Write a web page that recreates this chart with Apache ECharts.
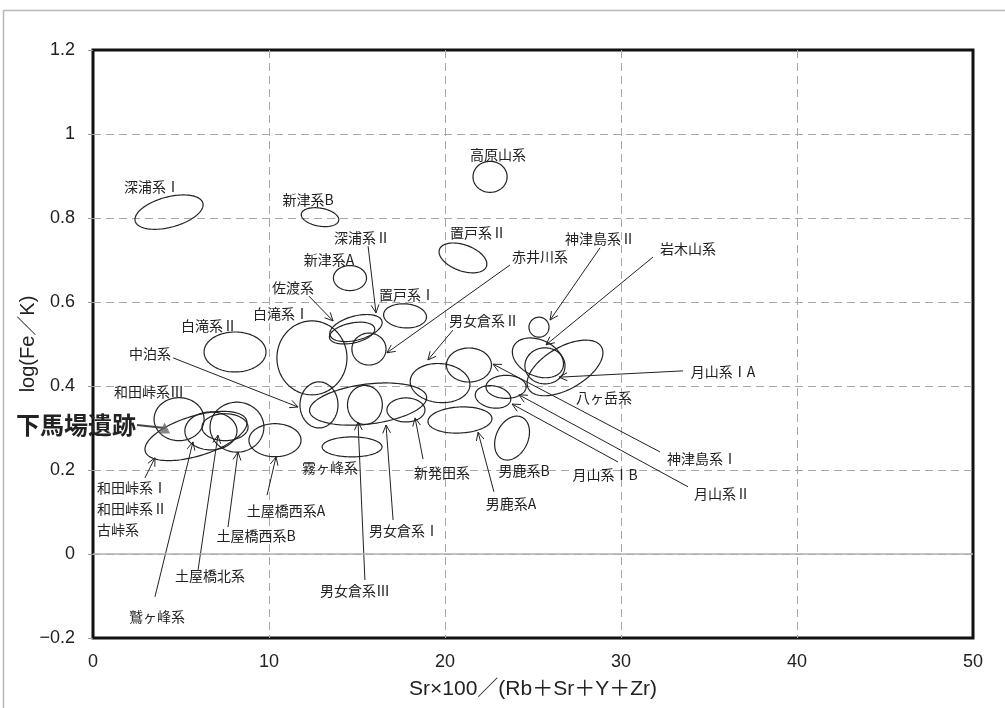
<!DOCTYPE html>
<html>
<head>
<meta charset="utf-8">
<script src="https://cdn.jsdelivr.net/npm/echarts@6/dist/echarts.min.js"></script>
<style>
  html, body { margin: 0; padding: 0; background: #fff; }
  #chart { width: 1005px; height: 708px; }
</style>
</head>
<body>
<div id="chart"></div>
<script>
// Obsidian source groups: centre and half-spread of each discrimination ellipse
const groupNames = ['深浦系Ⅰ','新津系B','高原山系','置戸系Ⅱ','新津系A','深浦系Ⅱ','佐渡系','置戸系Ⅰ','赤井川系','白滝系Ⅰ','白滝系Ⅱ','中泊系','男女倉系Ⅰ','男女倉系Ⅲ','新発田系','男女倉系Ⅱ','神津島系Ⅰ','月山系Ⅱ','月山系ⅠB','男鹿系A','男鹿系B','神津島系Ⅱ','岩木山系','月山系ⅠA','八ヶ岳系','和田峠系Ⅲ','和田峠系Ⅰ・Ⅱ・古峠系','鷲ヶ峰系','土屋橋北系','土屋橋西系B','土屋橋西系A','霧ヶ峰系'];
const groupSr   = [4.32, 12.90, 22.56, 21.02, 14.60, 14.94, 14.72, 17.73, 15.68, 12.44, 8.07, 12.84, 15.63, 15.45, 17.78, 19.72, 21.36, 23.47, 22.73, 20.85, 23.81, 25.34, 25.28, 25.68, 26.82, 4.89, 5.85, 6.70, 7.50, 8.18, 10.34, 14.72];
const groupFeK  = [0.814, 0.802, 0.898, 0.705, 0.657, 0.538, 0.526, 0.567, 0.488, 0.467, 0.481, 0.355, 0.357, 0.355, 0.343, 0.407, 0.450, 0.398, 0.374, 0.319, 0.276, 0.540, 0.467, 0.448, 0.443, 0.321, 0.281, 0.293, 0.302, 0.302, 0.271, 0.255];
const spreadSr  = [1.99, 1.08, 0.97, 1.42, 0.94, 1.53, 1.31, 1.22, 0.97, 1.99, 1.76, 1.08, 3.35, 0.99, 1.08, 1.70, 1.28, 1.14, 1.02, 1.82, 1.31, 0.57, 1.53, 1.14, 2.39, 1.42, 3.01, 1.48, 1.31, 1.53, 1.48, 1.70];
const spreadFeK = [0.036, 0.0214, 0.0369, 0.031, 0.0298, 0.0286, 0.0238, 0.0286, 0.038, 0.088, 0.0476, 0.0548, 0.0476, 0.0464, 0.0286, 0.0464, 0.0405, 0.0274, 0.0262, 0.031, 0.038, 0.0238, 0.0429, 0.0429, 0.050, 0.0512, 0.0476, 0.0452, 0.032, 0.0595, 0.0393, 0.0238];
const tiltDeg   = [15, -10, 0, -20, 0, 15, 12, -4, 0, 0, 0, 0, 7, 0, 0, -5, 0, 0, -10, 3, 65, 0, -25, 0, 30, 0, 17, 0, 0, 0, 0, 0];

// Annotation text and where it sits in data space
const noteText = ['深浦系Ⅰ','新津系B','高原山系','置戸系Ⅱ','新津系A','深浦系Ⅱ','佐渡系','置戸系Ⅰ','赤井川系','白滝系Ⅰ','白滝系Ⅱ','中泊系','男女倉系Ⅱ','神津島系Ⅱ','岩木山系','月山系ⅠA','八ヶ岳系','神津島系Ⅰ','月山系Ⅱ','月山系ⅠB','男鹿系B','男鹿系A','新発田系','男女倉系Ⅰ','男女倉系Ⅲ','霧ヶ峰系','土屋橋西系A','土屋橋西系B','土屋橋北系','鷲ヶ峰系','和田峠系Ⅲ'];
const noteX = [3.35, 12.22, 23.01, 21.88, 13.41, 15.28, 11.36, 17.84, 25.40, 10.68, 6.59, 3.24, 22.22, 28.81, 33.81, 35.80, 29.03, 34.60, 35.74, 29.09, 24.49, 23.75, 19.83, 17.67, 14.89, 13.47, 10.97, 9.26, 6.65, 3.64, 3.18];
const noteY = [0.874, 0.843, 0.950, 0.764, 0.700, 0.752, 0.633, 0.617, 0.707, 0.571, 0.543, 0.476, 0.555, 0.750, 0.726, 0.433, 0.371, 0.226, 0.143, 0.190, 0.198, 0.119, 0.193, 0.055, -0.088, 0.205, 0.102, 0.043, -0.052, -0.150, 0.386];

// Stacked label for the Wada-toge / Ko-toge group
const stackText = '和田峠系Ⅰ\n和田峠系Ⅱ\n古峠系';
const stackX = 0.23;
const stackY = 0.109;

// Leader arrows: from label to ellipse
const leadFromX = [15.63, 12.27, 23.69, 4.55, 20.45, 28.81, 31.82, 33.52, 32.22, 33.81, 29.83, 22.78, 18.75, 17.05, 15.45, 9.89, 7.67, 5.97, 3.52, 2.95];
const leadFromY = [0.733, 0.614, 0.688, 0.467, 0.533, 0.729, 0.707, 0.436, 0.243, 0.160, 0.219, 0.148, 0.226, 0.081, -0.062, 0.140, 0.064, -0.038, -0.102, 0.181];
const leadToX   = [16.08, 13.64, 16.70, 11.65, 19.03, 25.97, 25.74, 26.48, 22.73, 24.20, 23.81, 21.88, 18.30, 16.65, 15.06, 10.40, 8.24, 7.10, 5.68, 3.52];
const leadToY   = [0.574, 0.555, 0.479, 0.350, 0.462, 0.557, 0.498, 0.421, 0.452, 0.379, 0.357, 0.290, 0.324, 0.307, 0.314, 0.231, 0.243, 0.283, 0.267, 0.229];

// Archaeological site sample
const siteName = '下馬場遺跡';
const siteSr = 4.07;
const siteFeK = 0.300;
const siteLeadSr = 2.50;

// Axis ticks
const xTicks = { min: 0, max: 50, step: 10 };
const yTicks = { min: -0.2, max: 1.2, step: 0.2 };

const chart = echarts.init(document.getElementById('chart'));
const INK = '#222';
const CJK = "'Noto Sans CJK JP', 'Noto Sans CJK SC', sans-serif";
const LATIN = "'Liberation Sans', Arial, 'Noto Sans CJK JP', sans-serif";

function ellipseItem(params, api) {
  const c = api.coord([api.value(0), api.value(1)]);
  const sz = api.size([api.value(2), api.value(3)], [api.value(0), api.value(1)]);
  const a = sz[0], b = sz[1];
  const th = api.value(4) * Math.PI / 180;
  const ct = Math.cos(th), st = Math.sin(th);
  const pts = [];
  const n = 120;
  for (let i = 0; i < n; i++) {
    const t = (i / n) * Math.PI * 2;
    const ex = a * Math.cos(t), ey = b * Math.sin(t);
    pts.push([c[0] + ex * ct + ey * st, c[1] - ex * st + ey * ct]);
  }
  return {
    type: 'polygon',
    shape: { points: pts },
    style: { fill: 'none', stroke: INK, lineWidth: 1.2 }
  };
}

function arrowItem(params, api) {
  const p1 = api.coord([api.value(0), api.value(1)]);
  const p2 = api.coord([api.value(2), api.value(3)]);
  const ang = Math.atan2(p2[1] - p1[1], p2[0] - p1[0]);
  const L = 9, spread = 0.45;
  const h1 = [p2[0] - L * Math.cos(ang - spread), p2[1] - L * Math.sin(ang - spread)];
  const h2 = [p2[0] - L * Math.cos(ang + spread), p2[1] - L * Math.sin(ang + spread)];
  const st = { stroke: INK, lineWidth: 1, fill: 'none' };
  return {
    type: 'group',
    children: [
      { type: 'line', shape: { x1: p1[0], y1: p1[1], x2: p2[0], y2: p2[1] }, style: st },
      { type: 'polyline', shape: { points: [h1, p2, h2] }, style: st }
    ]
  };
}

function noteItem(params, api) {
  const p = api.coord([api.value(0), api.value(1)]);
  return {
    type: 'text',
    x: p[0], y: p[1],
    style: {
      text: noteText[params.dataIndex],
      fill: INK,
      font: '14px ' + CJK,
      align: 'center',
      verticalAlign: 'middle'
    }
  };
}

const gridLine = { show: true, showMinLine: false, showMaxLine: false, lineStyle: { color: '#a8a8a8', type: [8, 5], width: 1 } };

const option = {
  animation: false,
  backgroundColor: '#fff',
  graphic: [{
    type: 'rect',
    shape: { x: 3.5, y: 10.5, width: 1010, height: 720 },
    style: { fill: 'none', stroke: '#b8b8b8', lineWidth: 1.5 },
    silent: true,
    z: -10
  }],
  grid: {
    left: 93, right: 32, top: 50, bottom: 70,
    show: true,
    borderColor: '#111',
    borderWidth: 3,
    backgroundColor: 'transparent'
  },
  xAxis: {
    type: 'value',
    min: xTicks.min, max: xTicks.max, interval: xTicks.step,
    name: 'Sr×100／(Rb＋Sr＋Y＋Zr)',
    nameLocation: 'middle',
    nameGap: 41,
    nameMoveOverlap: false,
    nameTextStyle: { color: INK, fontSize: 21, fontFamily: LATIN },
    axisLine: { show: false },
    axisTick: { show: false },
    axisLabel: { color: INK, fontSize: 18, fontFamily: LATIN, margin: 15 },
    splitLine: gridLine
  },
  yAxis: {
    type: 'value',
    min: yTicks.min, max: yTicks.max, interval: yTicks.step,
    name: 'log(Fe／K)',
    nameLocation: 'middle',
    nameGap: 55,
    nameMoveOverlap: false,
    nameTextStyle: { color: INK, fontSize: 20, fontFamily: LATIN },
    axisLine: { show: false },
    axisTick: { show: true, length: 5, lineStyle: { color: '#999' } },
    axisLabel: {
      color: INK, fontSize: 18, fontFamily: LATIN, margin: 18,
      formatter: v => String(Math.round(v * 10) / 10).replace('-', '−')
    },
    splitLine: gridLine
  },
  series: [
    {
      name: 'zero',
      type: 'line',
      data: [],
      silent: true,
      markLine: {
        silent: true,
        symbol: 'none',
        label: { show: false },
        lineStyle: { color: '#b0b0b0', type: 'solid', width: 1.5 },
        data: [{ yAxis: 0 }]
      }
    },
    {
      name: 'groups',
      type: 'custom',
      renderItem: ellipseItem,
      data: groupNames.map((n, i) => [groupSr[i], groupFeK[i], spreadSr[i], spreadFeK[i], tiltDeg[i]]),
      encode: { x: 0, y: 1 },
      silent: true,
      z: 3
    },
    {
      name: 'leaders',
      type: 'custom',
      renderItem: arrowItem,
      data: leadFromX.map((x, i) => [x, leadFromY[i], leadToX[i], leadToY[i]]),
      encode: { x: [0, 2], y: [1, 3] },
      silent: true,
      z: 4
    },
    {
      name: 'notes',
      type: 'custom',
      renderItem: noteItem,
      data: noteX.map((x, i) => [x, noteY[i]]),
      encode: { x: 0, y: 1 },
      silent: true,
      z: 5
    },
    {
      name: 'stack',
      type: 'custom',
      renderItem: (params, api) => {
        const p = api.coord([api.value(0), api.value(1)]);
        return {
          type: 'text', x: p[0], y: p[1],
          style: { text: stackText, fill: INK, font: '14px ' + CJK, align: 'left', verticalAlign: 'middle', lineHeight: 21 }
        };
      },
      data: [[stackX, stackY]],
      encode: { x: 0, y: 1 },
      silent: true,
      z: 5
    },
    {
      name: 'siteLead',
      type: 'custom',
      renderItem: (params, api) => {
        const p1 = api.coord([api.value(0), api.value(1)]);
        const p2 = api.coord([api.value(2), api.value(1)]);
        return {
          type: 'group',
          children: [
            { type: 'line', shape: { x1: p1[0], y1: p1[1] - 3, x2: p2[0], y2: p2[1] }, style: { stroke: '#444', lineWidth: 1.8 } },
            {
              type: 'text', x: p1[0] - 1, y: p1[1] - 3,
              style: { text: siteName, fill: INK, font: 'bold 24px ' + CJK, align: 'right', verticalAlign: 'middle' }
            }
          ]
        };
      },
      data: [[siteLeadSr, siteFeK, siteSr]],
      encode: { x: [0, 2], y: 1 },
      silent: true,
      z: 6
    },
    {
      name: siteName,
      type: 'scatter',
      symbol: 'triangle',
      symbolSize: 11,
      itemStyle: { color: '#666' },
      data: [[siteSr, siteFeK]],
      silent: true,
      z: 7
    }
  ]
};

chart.setOption(option);
</script>
</body>
</html>
